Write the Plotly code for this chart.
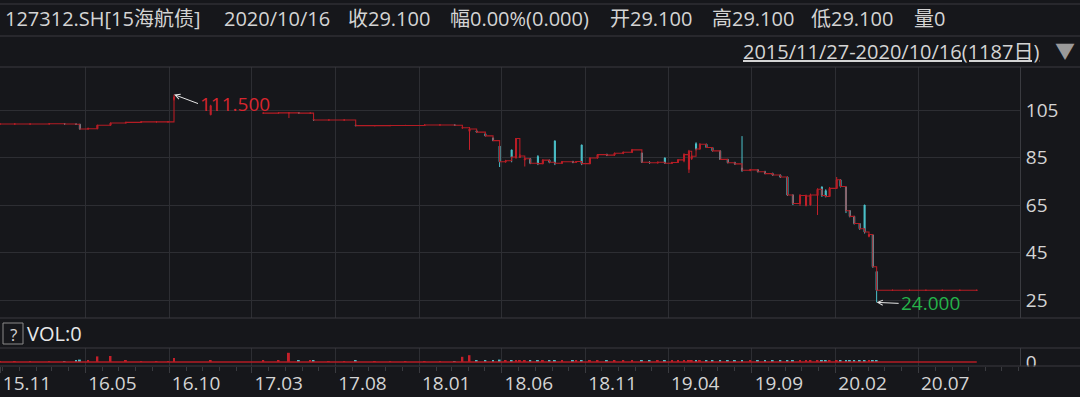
import plotly.graph_objects as go
from datetime import date

# ---------------- data ----------------
dates = ["2015-11-27","2015-12-24","2016-01-21","2016-02-25","2016-03-24","2016-04-14","2016-04-21","2016-05-06","2016-05-23","2016-06-16",
         "2016-07-14","2016-08-11","2016-09-08","2016-09-29","2016-10-10","2016-12-16","2017-03-22","2017-04-19","2017-05-08","2017-05-26",
         "2017-06-16","2017-06-22","2017-07-20","2017-08-17","2017-09-07","2017-10-12","2017-11-09","2017-12-07","2018-01-11","2018-02-08",
         "2018-03-07","2018-03-21","2018-04-03","2018-04-16","2018-05-02","2018-05-16","2018-05-28","2018-06-08","2018-06-19","2018-06-27",
         "2018-07-04","2018-07-13","2018-07-23","2018-08-06","2018-08-15","2018-08-27","2018-09-06","2018-09-19","2018-10-09","2018-10-15",
         "2018-10-25","2018-11-09","2018-11-23","2018-12-10","2018-12-24","2019-01-09","2019-01-25","2019-02-12","2019-02-26","2019-03-13",
         "2019-03-26","2019-04-08","2019-04-19","2019-04-30","2019-05-09","2019-05-14","2019-05-22","2019-05-29","2019-06-10","2019-06-21",
         "2019-07-05","2019-07-19","2019-08-01","2019-08-14","2019-08-29","2019-09-12","2019-09-25","2019-10-09","2019-10-23","2019-11-05",
         "2019-11-15","2019-11-28","2019-12-09","2019-12-17","2019-12-30","2020-01-07","2020-01-14","2020-01-21","2020-02-03","2020-02-10",
         "2020-02-20","2020-02-27","2020-03-06","2020-03-16","2020-03-25","2020-04-02","2020-04-09","2020-04-16","2020-05-15","2020-06-15",
         "2020-07-15","2020-08-14","2020-09-15","2020-10-16"]

opens = [99.1,99.1,99.1,99.1,99.2,99.1,99.0,97.0,97.1,98.6,
         99.5,99.8,100.0,100.0,109.5,103.0,103.7,103.7,103.8,103.8,
         103.7,100.9,100.8,100.8,98.6,98.4,98.4,98.5,98.5,98.7,
         98.7,97.4,96.0,96.2,95.0,93.2,89.8,83.2,88.2,84.8,
         85.0,84.0,84.5,85.4,82.4,83.9,92.0,82.6,83.2,83.0,
         90.3,82.4,84.8,86.2,86.0,86.8,87.2,86.9,83.0,82.8,
         84.8,82.6,82.9,83.6,80.0,84.5,90.8,88.6,90.6,89.2,
         87.8,84.2,82.8,80.6,79.6,79.8,79.0,78.2,77.6,76.8,
         69.2,65.6,64.8,65.0,69.0,72.6,71.0,68.6,72.0,75.6,
         72.6,62.6,60.2,57.2,65.0,51.8,52.4,37.0,29.1,29.1,
         29.1,29.1,29.1,29.1]

highs = [99.1,99.2,99.1,99.2,99.2,99.1,99.0,97.6,98.7,99.5,
         99.8,100.0,100.1,100.0,111.5,107.2,103.8,103.8,103.9,103.8,
         103.7,101.0,100.9,100.9,98.8,98.5,98.6,98.6,98.8,98.8,
         98.7,97.8,97.8,96.6,95.2,93.4,89.8,84.0,88.2,93.2,
         86.5,85.0,84.8,86.0,84.2,84.0,92.0,83.5,83.6,83.5,
         90.3,85.0,86.4,86.6,87.0,87.4,88.6,87.0,83.4,83.2,
         85.0,83.2,84.2,86.8,88.2,86.0,91.4,91.0,90.6,89.3,
         87.8,84.3,83.2,94.0,80.2,79.9,79.4,78.6,77.8,76.8,
         69.4,69.6,69.4,69.8,72.0,72.8,71.6,72.6,76.8,75.8,
         72.6,62.8,60.4,57.4,65.0,52.8,52.4,37.0,29.1,29.1,
         29.1,29.1,29.1,29.1]

lows = [99.1,99.0,99.0,99.1,99.1,98.9,96.8,97.0,97.1,98.6,
        99.5,99.8,99.9,99.9,109.0,102.8,103.6,103.7,101.6,103.6,
        103.6,100.7,100.7,100.7,98.3,98.3,98.3,98.4,98.5,98.6,
        98.5,97.3,88.2,95.6,94.0,92.0,81.0,82.8,83.0,84.6,
        84.8,81.2,82.2,81.8,82.2,82.6,81.8,82.4,82.6,82.8,
        81.8,82.3,84.6,85.6,85.8,86.4,87.0,82.7,82.4,82.4,
        82.4,82.3,82.8,83.0,78.5,84.0,88.0,88.4,89.0,87.6,
        84.0,82.6,82.0,79.0,79.2,78.8,78.0,77.4,76.4,68.8,
        65.0,64.6,64.4,64.8,60.8,68.4,68.2,68.4,71.8,72.4,
        61.6,59.8,56.8,54.6,53.0,51.4,38.6,24.0,29.1,29.1,
        29.1,29.1,29.1,29.1]

closes = [99.1,99.1,99.1,99.2,99.1,99.0,97.0,97.1,98.6,99.5,
          99.8,100.0,100.0,100.0,110.5,106.8,103.7,103.8,103.8,103.7,
          103.7,100.8,100.8,100.8,98.4,98.4,98.5,98.5,98.7,98.7,
          98.6,97.5,97.0,95.7,94.1,92.1,83.2,83.6,85.2,93.0,
          85.6,84.5,82.6,82.4,83.9,83.0,82.6,83.2,83.0,83.3,
          82.4,84.8,86.2,86.0,86.8,87.2,88.2,83.0,82.8,83.0,
          82.6,82.9,84.0,86.2,87.6,85.5,88.6,90.6,89.2,87.8,
          84.2,82.8,82.3,79.6,79.8,79.0,78.2,77.6,76.8,69.2,
          65.6,69.0,68.8,69.2,71.6,69.0,68.6,72.0,75.6,72.8,
          62.6,60.2,57.2,55.0,53.6,52.6,39.0,29.1,29.1,29.1,
          29.1,29.1,29.1,29.1]

volumes = [0.1,0.1,0.1,0.1,0.1,0.3,0.6,0.3,1.4,1.5,
           0.3,0.1,0.1,0.2,1.0,0.4,0.3,0.3,2.3,0.4,
           0.3,0.5,0.2,0.2,0.3,0.2,0.2,0.2,0.2,0.2,
           0.2,1.3,1.7,0.4,0.3,0.3,0.6,0.3,0.4,0.5,
           0.3,0.4,0.3,0.3,0.3,0.3,0.5,0.3,0.3,0.3,
           0.4,0.3,0.3,0.3,0.3,0.3,0.3,0.4,0.3,0.3,
           0.3,0.3,0.3,0.3,0.4,0.3,0.4,0.3,0.3,0.3,
           0.3,0.3,0.3,0.4,0.3,0.3,0.3,0.3,0.3,0.4,
           0.3,0.3,0.3,0.3,0.4,0.3,0.3,0.3,0.3,0.3,
           0.4,0.3,0.3,0.3,0.4,0.3,0.4,0.5,0.0,0.0,
           0.0,0.0,0.0,0.0]

price_ticks = [25, 45, 65, 85, 105]
vol_ticks = [0]
month_ticks = ["2015-11-27","2016-05-01","2016-10-01","2017-03-01","2017-08-01","2018-01-01",
               "2018-06-01","2018-11-01","2019-04-01","2019-09-01","2020-02-01","2020-07-01"]
month_labels = ["15.11","16.05","16.10","17.03","17.08","18.01","18.06","18.11","19.04","19.09","20.02","20.07"]

header_items = [("127312.SH[15海航债]", 3), ("2020/10/16", 222), ("收29.100", 346), ("幅0.00%(0.000)", 448),
                ("开29.100", 608), ("高29.100", 710), ("低29.100", 809), ("量0", 912)]
range_text = "2015/11/27-2020/10/16(1187日)"
max_label, min_label = "111.500", "24.000"

# ---------------- style ----------------
W, H = 1080, 397
BG = "#16171b"
GRID = "#2d2e33"
SEP = "#3a3b40"
TXT = "#d4d4d4"
RED = "#c4202a"
LINE_RED = "#b41c24"
CYAN = "#4cc3cc"
GREEN = "#25b34a"
FONT = "Open Sans, Noto Sans CJK SC, sans-serif"


def py(y):
    return 1 - y / H


def px(x):
    return x / W


fig = go.Figure()

# continuous close line (broken across long suspensions)
line_x, line_y = [], []
for i, (d, c) in enumerate(zip(dates, closes)):
    if i > 0 and (date.fromisoformat(d) - date.fromisoformat(dates[i - 1])).days > 60:
        line_x.append(None)
        line_y.append(None)
    line_x.append(d)
    line_y.append(c)
fig.add_trace(go.Scatter(x=line_x, y=line_y, mode="lines", line=dict(color=LINE_RED, width=1.1, shape="hv"),
                         hoverinfo="skip", xaxis="x", yaxis="y"))

up = [i for i in range(len(dates)) if closes[i] >= opens[i]]
dn = [i for i in range(len(dates)) if closes[i] < opens[i]]
for idx, col in ((up, RED), (dn, CYAN)):
    fig.add_trace(go.Candlestick(
        x=[dates[i] for i in idx], open=[opens[i] for i in idx], high=[highs[i] for i in idx],
        low=[lows[i] for i in idx], close=[closes[i] for i in idx],
        increasing=dict(line=dict(color=col, width=1), fillcolor=col),
        decreasing=dict(line=dict(color=col, width=1), fillcolor=col),
        whiskerwidth=0, hoverinfo="skip", xaxis="x", yaxis="y"))

# volume
fig.add_trace(go.Scatter(x=[dates[0], dates[-1]], y=[0, 0], mode="lines", line=dict(color=LINE_RED, width=1.3),
                         hoverinfo="skip", xaxis="x", yaxis="y2"))
vol_colors = [RED if closes[i] >= opens[i] else CYAN for i in range(len(dates))]
fig.add_trace(go.Bar(x=dates, y=volumes, marker=dict(color=vol_colors, line=dict(width=0)),
                     hoverinfo="skip", xaxis="x", yaxis="y2"))

# ---------------- layout ----------------
shapes = []
for yy in (4, 36, 67, 318, 348):
    shapes.append(dict(type="line", xref="paper", yref="paper", x0=0, x1=1, y0=py(yy), y1=py(yy),
                       line=dict(color=SEP, width=1)))
shapes.append(dict(type="rect", xref="paper", yref="paper", x0=px(1021), x1=1, y0=py(380), y1=py(366.5),
                   fillcolor=BG, line=dict(width=0), layer="above"))
shapes.append(dict(type="line", xref="paper", yref="paper", x0=0, x1=1, y0=py(366), y1=py(366),
                   line=dict(color=SEP, width=1), layer="above"))
shapes.append(dict(type="rect", xref="paper", yref="paper", x0=px(3), x1=px(23), y0=py(344), y1=py(323),
                   line=dict(color="#8a8a8a", width=1), fillcolor="rgba(0,0,0,0)"))

annotations = []
for txt, xx in header_items:
    annotations.append(dict(text=txt, xref="paper", yref="paper", x=px(xx), y=py(19), xanchor="left",
                            yanchor="middle", showarrow=False, font=dict(size=20, color=TXT)))
annotations.append(dict(text="<u>" + range_text + "</u>", xref="paper", yref="paper", x=px(741), y=py(51),
                        xanchor="left", yanchor="middle", showarrow=False, font=dict(size=20, color=TXT)))
annotations.append(dict(text="▼", xref="paper", yref="paper", x=px(1065), y=py(51), xanchor="center",
                        yanchor="middle", showarrow=False, font=dict(size=20, color="#9a9a9a")))
annotations.append(dict(text="?", xref="paper", yref="paper", x=px(13), y=py(334), xanchor="center",
                        yanchor="middle", showarrow=False, font=dict(size=17, color=TXT)))
annotations.append(dict(text="VOL:0", xref="paper", yref="paper", x=px(25), y=py(333), xanchor="left",
                        yanchor="middle", showarrow=False, font=dict(size=20, color="#e8e8e8")))

imax = highs.index(max(highs))
imin = lows.index(min(lows))
annotations.append(dict(text=max_label, x=dates[imax], y=highs[imax], xref="x", yref="y",
                        showarrow=True, ax=24, ay=9, xanchor="left", yanchor="middle",
                        arrowhead=5, arrowsize=1, arrowwidth=1, arrowcolor="#e6e6e6", standoff=0,
                        font=dict(size=19, color="#d8252e")))
annotations.append(dict(text=min_label, x=dates[imin], y=lows[imin], xref="x", yref="y",
                        showarrow=True, ax=22, ay=1, xanchor="left", yanchor="middle",
                        arrowhead=5, arrowsize=1, arrowwidth=1, arrowcolor="#e6e6e6", standoff=0,
                        font=dict(size=19, color=GREEN)))

fig.update_layout(
    width=W, height=H, margin=dict(l=0, r=0, t=0, b=0, autoexpand=False),
    paper_bgcolor=BG, plot_bgcolor=BG, showlegend=False, hovermode=False,
    font=dict(family=FONT, size=19, color=TXT),
    boxgap=0.45, bargap=0.3,
    xaxis=dict(type="date", domain=[0, px(1020)], range=["2015-11-27", "2021-01-03"], anchor="y2",
               automargin=False,
               tickvals=month_ticks, ticktext=month_labels, ticklabelshift=27, ticklabelstandoff=-6,
               showgrid=True, gridcolor=GRID, gridwidth=1, zeroline=False, showline=False,
               ticks="outside", ticklen=6, tickcolor=SEP, tickfont=dict(size=19, color=TXT),
               minor=dict(ticks="outside", ticklen=4, dtick="M1", tick0="2015-12-01", tickcolor=SEP, showgrid=False),
               rangeslider=dict(visible=False), fixedrange=True),
    yaxis=dict(domain=[py(318), py(67)], range=[17.42, 123.105], side="right", anchor="x",
               automargin=False,
               tickvals=price_ticks, showgrid=True, gridcolor=GRID, gridwidth=1, zeroline=False,
               showline=True, linecolor=SEP, ticks="", ticklabelstandoff=1,
               tickfont=dict(size=19, color=TXT), fixedrange=True),
    yaxis2=dict(domain=[py(366), py(348)], range=[-1, 3.5], side="right", anchor="x",
                automargin=False,
                tickvals=vol_ticks, showgrid=False, zeroline=False, showline=True, linecolor=SEP,
                ticks="", ticklabelstandoff=1, tickfont=dict(size=19, color=TXT), fixedrange=True),
    shapes=shapes, annotations=annotations,
)

fig.write_html("out.html")
